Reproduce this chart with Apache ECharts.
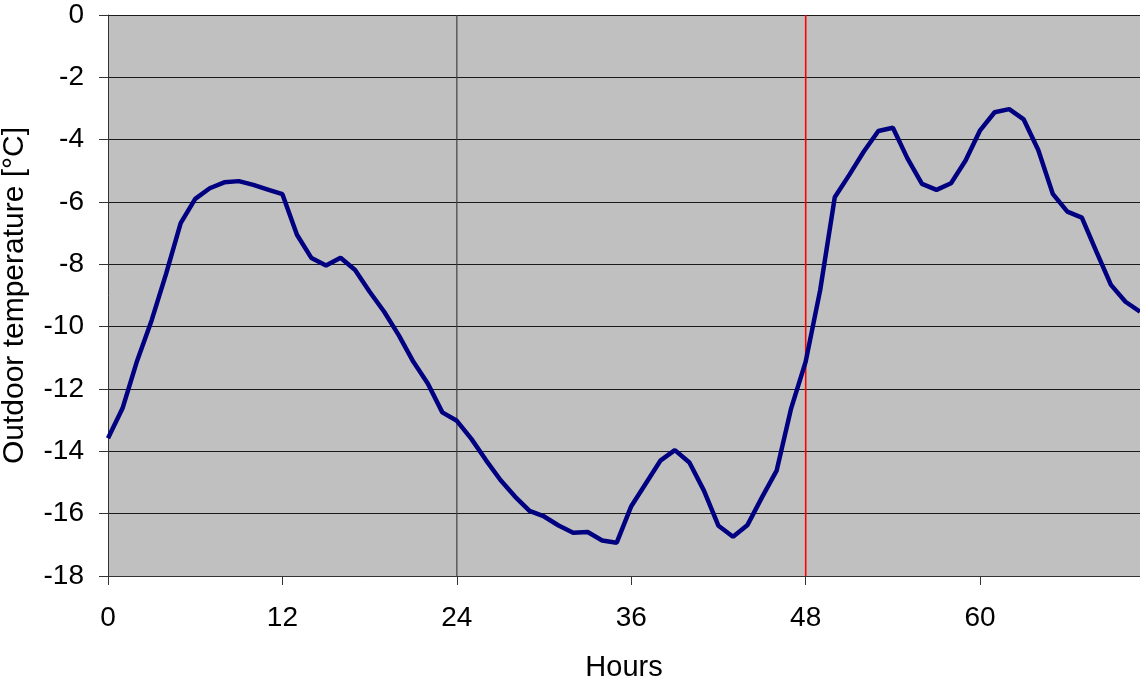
<!DOCTYPE html>
<html>
<head>
<meta charset="utf-8">
<style>
  html, body { margin: 0; padding: 0; background: #ffffff; }
  #chart { width: 1140px; height: 682px; }
</style>
<script src="https://cdn.jsdelivr.net/npm/echarts@6/dist/echarts.min.js"></script>
</head>
<body>
<div id="chart"></div>
<script>
// Hourly outdoor temperature over three days
const hours = [];
for (let h = 0; h <= 71; h++) hours.push(h);

const temperature = [
  -13.58, -12.62, -11.1, -9.8, -8.3, -6.68, -5.9, -5.56, -5.37, -5.33,
  -5.45, -5.6, -5.75, -7.05, -7.8, -8.04, -7.79, -8.18, -8.88, -9.52,
  -10.27, -11.12, -11.82, -12.75, -13.02, -13.6, -14.28, -14.92, -15.45, -15.91,
  -16.09, -16.38, -16.61, -16.59, -16.86, -16.93, -15.76, -15.03, -14.3, -13.96,
  -14.36, -15.26, -16.39, -16.74, -16.36, -15.47, -14.62, -12.62, -11.12, -8.82,
  -5.85, -5.13, -4.38, -3.72, -3.62, -4.6, -5.42, -5.61, -5.4, -4.67,
  -3.7, -3.12, -3.02, -3.35, -4.33, -5.74, -6.31, -6.5, -7.59, -8.66,
  -9.2, -9.52
];

// Vertical markers: end of first day, and the current moment
const dayBoundary = 24;
const currentTime = 48;

const Y_MIN = -18;
const Y_MAX = 0;

const FONT = '"Liberation Sans", Arial, sans-serif';

function verticalMarker(x, color, width) {
  return {
    type: 'line',
    data: [[x, Y_MIN], [x, Y_MAX]],
    symbol: 'none',
    silent: true,
    lineStyle: { color: color, width: width },
    z: 2
  };
}

const chart = echarts.init(document.getElementById('chart'), null, { renderer: 'canvas' });

chart.setOption({
  animation: false,
  grid: {
    left: 108, right: 0, top: 15, bottom: 106,
    containLabel: false,
    outerBoundsMode: 'none',
    show: true, backgroundColor: '#C0C0C0', borderWidth: 0
  },
  xAxis: {
    type: 'value',
    min: 0, max: 71, interval: 12,
    name: 'Hours',
    nameLocation: 'middle',
    nameGap: 77,
    nameTextStyle: { fontFamily: FONT, fontSize: 29, color: '#000' },
    axisLine: { show: true, onZero: false, lineStyle: { color: '#333', width: 1 } },
    axisTick: { show: true, inside: false, length: 9, lineStyle: { color: '#333' } },
    axisLabel: {
      margin: 28, fontFamily: FONT, fontSize: 28, color: '#000',
      formatter: v => (v % 12 === 0 ? String(v) : '')
    },
    splitLine: { show: false }
  },
  yAxis: {
    type: 'value',
    min: Y_MIN, max: Y_MAX, interval: 2,
    name: 'Outdoor temperature [°C]',
    nameLocation: 'middle',
    nameGap: 78,
    nameTextStyle: { fontFamily: FONT, fontSize: 30, color: '#000' },
    axisLine: { show: true, onZero: false, lineStyle: { color: '#333', width: 1 } },
    axisTick: { show: true, inside: false, length: 9, lineStyle: { color: '#333' } },
    axisLabel: { margin: 24, fontFamily: FONT, fontSize: 28, color: '#000' },
    splitLine: { show: true, lineStyle: { color: '#1a1a1a', width: 1 } }
  },
  series: [
    verticalMarker(dayBoundary, '#404040', 1.2),
    verticalMarker(currentTime, '#FF0000', 1.6),
    {
      type: 'line',
      data: hours.map((h, i) => [h, temperature[i]]),
      symbol: 'none',
      lineStyle: { color: '#000080', width: 4.5 },
      z: 3
    }
  ]
});
</script>
</body>
</html>
